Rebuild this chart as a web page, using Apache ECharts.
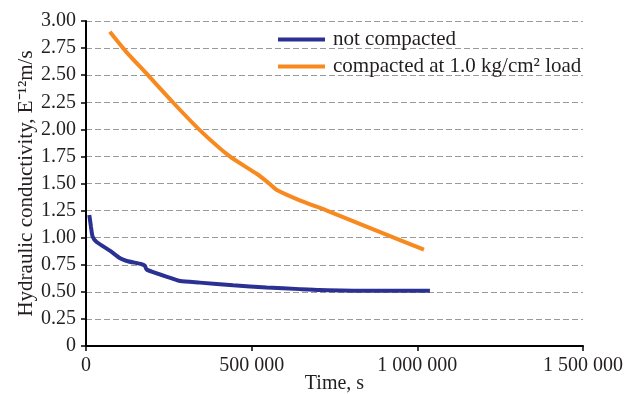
<!DOCTYPE html>
<html>
<head>
<meta charset="utf-8">
<script src="https://cdn.jsdelivr.net/npm/echarts@6/dist/echarts.min.js"></script>
<style>html,body{margin:0;padding:0;background:#fff}#c{width:624px;height:394px}</style>
</head>
<body>
<div id="c"></div>
<script>
const seriesNames = ['not compacted', 'compacted at 1.0 kg/cm\u00B2 load'];
const notCompactedTime = [10000, 15000, 20000, 32000, 72000, 103000, 123000, 168000, 178000, 183000, 263000, 284000, 344000, 444000, 545000, 645000, 706000, 850000, 1038000];
const notCompactedValue = [1.21, 1.10, 1.01, 0.96, 0.88, 0.81, 0.785, 0.755, 0.74, 0.705, 0.62, 0.60, 0.585, 0.56, 0.54, 0.525, 0.517, 0.51, 0.51];
const compactedTime = [72000, 120000, 187000, 262000, 341000, 434000, 515000, 545000, 576000, 645000, 727000, 929000, 1020000];
const compactedValue = [2.90, 2.72, 2.50, 2.25, 2.00, 1.75, 1.59, 1.52, 1.44, 1.345, 1.25, 1.00, 0.89];
const xTicks = [0, 500000, 1000000, 1500000];
const yTicks = [0, 0.25, 0.5, 0.75, 1, 1.25, 1.5, 1.75, 2, 2.25, 2.5, 2.75, 3];

const font = 'Liberation Serif';
const txt = '#231f20';
const chart = echarts.init(document.getElementById('c'));
const pair = (t, v) => t.map((x, i) => [x, v[i]]);
chart.setOption({
  animation: false,
  textStyle: { fontFamily: font, color: txt },
  grid: { left: 86, right: 41, top: 21, bottom: 48, containLabel: false, outerBoundsMode: 'none' },
  legend: {
    orient: 'vertical',
    left: 273, top: 24,
    itemWidth: 47, itemHeight: 4, itemGap: 6,
    icon: 'rect',
    textStyle: { fontFamily: font, fontSize: 21, color: txt, padding: [0, 0, 0, 3] },
    data: seriesNames
  },
  xAxis: {
    type: 'value', min: xTicks[0], max: xTicks[xTicks.length - 1], interval: 500000,
    name: 'Time, s', nameLocation: 'middle', nameGap: 28, nameMoveOverlap: false,
    nameTextStyle: { fontFamily: font, fontSize: 20, color: txt },
    axisLine: { lineStyle: { color: '#000', width: 2 } },
    axisTick: { show: true, length: 5, lineStyle: { color: '#000', width: 1.5 } },
    axisLabel: { fontFamily: font, fontSize: 20, color: txt, margin: 10, hideOverlap: false,
      formatter: v => String(v).replace(/\B(?=(\d{3})+(?!\d))/g, ' ') },
    splitLine: { show: false }
  },
  yAxis: {
    type: 'value', min: yTicks[0], max: yTicks[yTicks.length - 1], interval: 0.25,
    name: 'Hydraulic conductivity, E\u207B\u00B9\u00B2m/s', nameLocation: 'middle', nameGap: 49, nameMoveOverlap: false,
    nameTextStyle: { fontFamily: font, fontSize: 21, color: txt },
    axisLine: { show: true, lineStyle: { color: '#000', width: 2 } },
    axisTick: { show: true, length: 5, lineStyle: { color: '#000', width: 1.5 } },
    axisLabel: { fontFamily: font, fontSize: 20, color: txt, margin: 10,
      formatter: v => v === 0 ? '0' : v.toFixed(2) },
    splitLine: { show: true, lineStyle: { color: '#9a9a9a', type: [6, 3], width: 1 } }
  },
  series: [
    { name: seriesNames[0], type: 'line', data: pair(notCompactedTime, notCompactedValue),
      showSymbol: false, smooth: 0.2, lineStyle: { color: '#2b3192', width: 4 }, itemStyle: { color: '#2b3192' } },
    { name: seriesNames[1], type: 'line', data: pair(compactedTime, compactedValue),
      showSymbol: false, smooth: 0.2, lineStyle: { color: '#f7891f', width: 4 }, itemStyle: { color: '#f7891f' } }
  ]
});
</script>
</body>
</html>
